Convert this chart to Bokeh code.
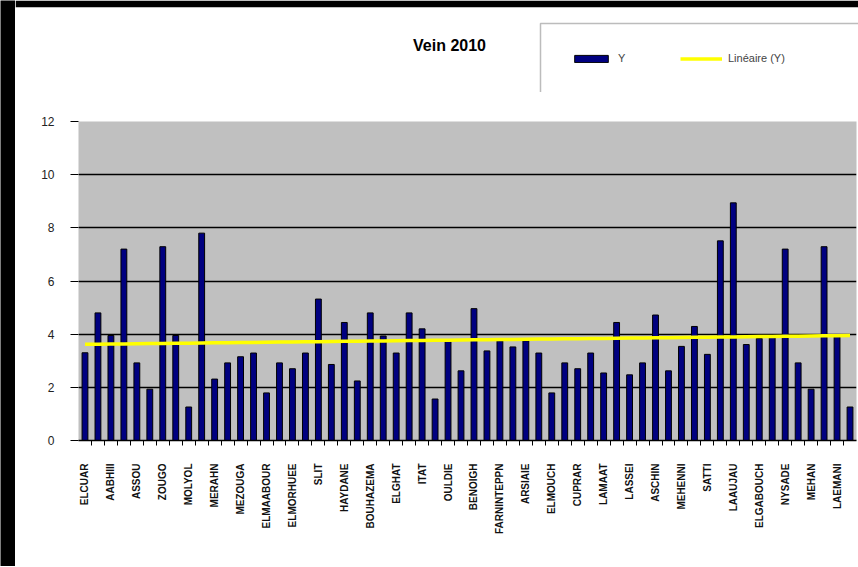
import numpy as np
from bokeh.plotting import figure
from bokeh.layouts import row, column
from bokeh.models import FixedTicker, Legend, LegendItem, Label, BoxAnnotation, ColumnDataSource
from bokeh.embed import file_html
from bokeh.resources import INLINE

title_text = "Vein 2010"
series_name = "Y"
trend_name = "Linéaire (Y)"

# one label for every other category (odd positions)
town_labels = ["ELCUAR", "AABHIII", "ASSOU", "ZOUGO", "MOLYOL",
               "MERAHN", "MEZOUGA", "ELMAABOUR", "ELMORHUEE", "SLIT",
               "HAYDANE", "BOUHAZEMA", "ELGHAT", "ITAT", "OULDIE",
               "BENOIGH", "FARNINTEPPN", "ARSIAIE", "ELMOUCH", "CUPRAR",
               "LAMAAT", "LASSEI", "ASCHIN", "MEHENNI", "SATTI",
               "LAAUJAU", "ELGABOUCH", "NYSADE", "MEHAN", "LAEMANI"]

values = [3.30, 4.80, 3.95, 7.20, 2.92, 1.93, 7.29, 3.95, 1.26, 7.80,
          2.31, 2.92, 3.15, 3.29, 1.79, 2.92, 2.70, 3.29, 5.32, 2.86,
          4.44, 2.24, 4.80, 3.93, 3.29, 4.80, 4.20, 1.56, 3.73, 2.62,
          4.96, 3.37, 3.75, 3.52, 3.75, 3.29, 1.79, 2.92, 2.70, 3.29,
          2.54, 4.44, 2.47, 2.92, 4.72, 2.62, 3.54, 4.29, 3.24, 7.51,
          8.94, 3.61, 3.84, 3.88, 7.20, 2.92, 1.93, 7.29, 3.91, 1.26]

y_ticks = [0, 2, 4, 6, 8, 10, 12]

positions = list(range(1, len(values) + 1))
label_positions = positions[::2]

# linear trend line (least squares, as the spreadsheet computes it)
slope, intercept = np.polyfit(positions, values, 1)
trend = [slope * xi + intercept for xi in positions]

src = ColumnDataSource(data=dict(x=positions, y=values, t=trend))

BAR_FILL = "#000080"
TREND = "#FFFF00"

# ---------------- main chart ----------------
p = figure(width=843, height=474, output_backend="svg", toolbar_location=None,
           x_range=(0.5, len(values) + 0.5), y_range=(0, 12),
           min_border_left=63, min_border_right=2,
           min_border_top=29, min_border_bottom=126)
p.frame_align = False

p.background_fill_color = "#C0C0C0"
p.border_fill_color = "white"
p.outline_line_color = None

p.vbar(x="x", top="y", width=0.45, source=src,
       fill_color=BAR_FILL, line_color="black", line_width=1)
p.line(x="x", y="t", source=src, line_color=TREND, line_width=3.5)

p.xgrid.visible = False
p.ygrid.ticker = FixedTicker(ticks=[2, 4, 6, 8, 10])
p.ygrid.grid_line_color = "black"
p.ygrid.grid_line_width = 1.5

p.yaxis.ticker = FixedTicker(ticks=y_ticks)
p.yaxis.axis_line_color = None
p.yaxis.major_tick_out = 8
p.yaxis.major_tick_in = 0
p.yaxis.major_tick_line_color = "black"
p.yaxis.minor_tick_line_color = None
p.yaxis.major_label_standoff = 16
p.yaxis.major_label_text_font = "Liberation Sans"
p.yaxis.major_label_text_font_size = "12px"
p.yaxis.major_label_text_color = "#222222"

boundaries = [b + 0.5 for b in range(1, len(values))]
p.xaxis.ticker = FixedTicker(ticks=label_positions, minor_ticks=boundaries)
p.xaxis.major_label_overrides = {pos: name for pos, name in zip(label_positions, town_labels)}
p.xaxis.major_label_orientation = np.pi / 2
p.xaxis.axis_line_color = "black"
p.xaxis.axis_line_width = 1.5
p.xaxis.major_tick_out = 0
p.xaxis.major_tick_in = 0
p.xaxis.minor_tick_out = 5
p.xaxis.minor_tick_in = 0
p.xaxis.minor_tick_line_color = "black"
p.xaxis.major_label_standoff = 18
p.xaxis.major_label_text_font = "Liberation Sans"
p.xaxis.major_label_text_font_size = "10px"
p.xaxis.major_label_text_font_style = "bold"
p.xaxis.major_label_text_color = "#111111"

# ---------------- header: title + legend ----------------
hdr = figure(width=843, height=92, output_backend="svg", toolbar_location=None,
             x_range=(0, 843), y_range=(0, 85),
             x_axis_location=None, y_axis_location=None,
             min_border_left=0, min_border_right=0,
             min_border_top=7, min_border_bottom=0)
hdr.frame_align = False
hdr.border_fill_color = "black"
hdr.background_fill_color = "white"
hdr.outline_line_color = None
hdr.grid.visible = False

# legend key proxies, placed outside the visible header range
key_bar = hdr.vbar(x=[-500], top=[-500], width=1, fill_color=BAR_FILL,
                   line_color="black", line_width=1)
key_line = hdr.line(x=[-500, -499], y=[-500, -500], line_color=TREND, line_width=3.5)

hdr.add_layout(Label(x=434, y=47, text=title_text, text_align="center",
                     text_baseline="middle", text_font="Liberation Sans",
                     text_font_size="16px", text_font_style="bold",
                     text_color="black"))

# legend frame: runs past the right and bottom edges, as in the original
hdr.add_layout(BoxAnnotation(left=525, right=1000, bottom=-20, top=69,
                             fill_color="white", fill_alpha=1.0,
                             line_color="#222222", line_width=1.5))

legend = Legend(items=[LegendItem(label=series_name, renderers=[key_bar]),
                       LegendItem(label=trend_name, renderers=[key_line])],
                orientation="horizontal", location=(555, 28),
                border_line_color=None, background_fill_alpha=0.0,
                label_text_font="Liberation Sans", label_text_font_size="11px",
                glyph_width=42, glyph_height=9, label_width=54,
                label_standoff=6, spacing=8, padding=22, margin=0)
hdr.add_layout(legend, "center")

# ---------------- black left strip ----------------
strip = figure(width=15, height=566, output_backend="svg", toolbar_location=None,
               x_axis_location=None, y_axis_location=None,
               min_border_left=0, min_border_right=0,
               min_border_top=0, min_border_bottom=0)
strip.frame_align = False
strip.border_fill_color = "black"
strip.background_fill_color = "black"
strip.outline_line_color = None
strip.grid.visible = False

layout = row(strip, column(hdr, p, spacing=0), spacing=0)

open("out.html", "w").write(file_html(layout, INLINE))
